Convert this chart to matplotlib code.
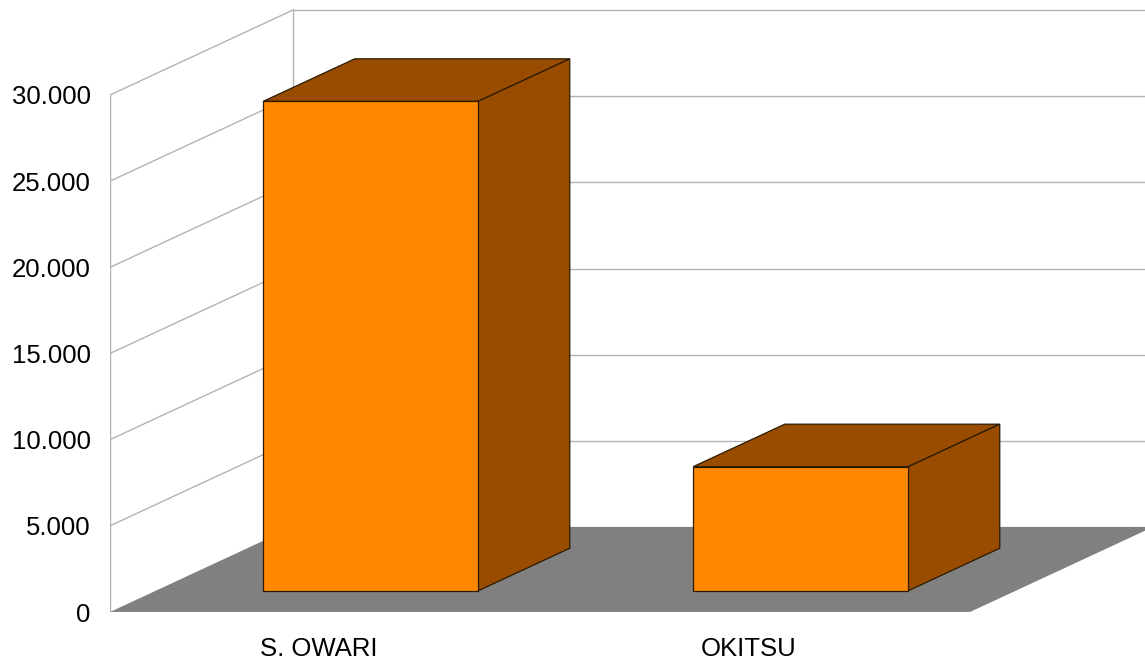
import matplotlib
matplotlib.use("Agg")
import matplotlib.pyplot as plt
from matplotlib.patches import Polygon

# data
categories = ["S. OWARI", "OKITSU"]
values = [28400, 7200]
y_ticks = [0, 5000, 10000, 15000, 20000, 25000, 30000]
y_tick_labels = ["0", "5.000", "10.000", "15.000", "20.000", "25.000", "30.000"]

plt.rcParams['font.family'] = ['Liberation Sans', 'DejaVu Sans']

FRONT = "#ff8800"
DARK = "#994c00"
FLOOR = "#808080"
GRID = "#b3b3b3"
EDGE = "#2a1a00"

# oblique depth offset (full depth), in data units
DEPTH_X = 0.4256
DEPTH_Y = 4932
VMAX = 30000


def proj(x, v, d):
    # x in category units, v value, d depth fraction 0..1
    return (x + d * DEPTH_X, v + d * DEPTH_Y)


fig = plt.figure(figsize=(11.45, 6.64), dpi=100)
ax = fig.add_axes([110 / 1145, 52 / 664, 1 - 110 / 1145, 1 - 52 / 664])
n = len(categories)
xmax = (1145 - 110) / 430
ymax = (664 - 52) / 517 * VMAX
ax.set_xlim(0, xmax)
ax.set_ylim(0, ymax)
for s in ax.spines.values():
    s.set_visible(False)

# back wall gridlines and left wall lines
for v in y_ticks:
    bx, by = proj(0, v, 1)
    ax.plot([bx, xmax + 1], [by, by], color=GRID, lw=1.0, zorder=1, clip_on=False)
    if v > 0:
        fx, fy = proj(0, v, 0)
        ax.plot([fx, bx], [fy, by], color=GRID, lw=1.0, zorder=1)
# wall verticals
ax.plot([0, 0], [0, VMAX], color=GRID, lw=1.0, zorder=1)
bx0, by0 = proj(0, 0, 1)
bx1, by1 = proj(0, VMAX, 1)
ax.plot([bx0, bx1], [by0, by1], color=GRID, lw=1.0, zorder=1)

# floor
floor = [proj(0, 0, 0), proj(n, 0, 0), proj(n, 0, 1), proj(0, 0, 1)]
ax.add_patch(Polygon(floor, closed=True, facecolor=FLOOR, edgecolor="none", zorder=2))
ax.plot([0, n], [0, 0], color=GRID, lw=1.0, zorder=2)

# bars
w = 0.25
d0, d1 = 0.25, 0.75
for i, v in enumerate(values):
    c = i + 0.5
    xl, xr = c - w, c + w
    top = [proj(xl, v, d0), proj(xr, v, d0), proj(xr, v, d1), proj(xl, v, d1)]
    side = [proj(xr, 0, d0), proj(xr, 0, d1), proj(xr, v, d1), proj(xr, v, d0)]
    front = [proj(xl, 0, d0), proj(xr, 0, d0), proj(xr, v, d0), proj(xl, v, d0)]
    for poly, col in [(top, DARK), (side, DARK), (front, FRONT)]:
        ax.add_patch(Polygon(poly, closed=True, facecolor=col, edgecolor=EDGE,
                             lw=0.9, joinstyle="miter", zorder=3 + i))

ax.set_yticks(y_ticks)
ax.set_yticklabels(y_tick_labels)
ax.tick_params(axis="y", length=0, pad=14, labelsize=18.5, labelcolor="#000000")
ax.set_xticks([i + 0.485 for i in range(n)])
ax.set_xticklabels(categories)
ax.tick_params(axis="x", length=0, pad=18, labelsize=18.5, labelcolor="#000000")

fig.savefig("out.png", dpi=100)
